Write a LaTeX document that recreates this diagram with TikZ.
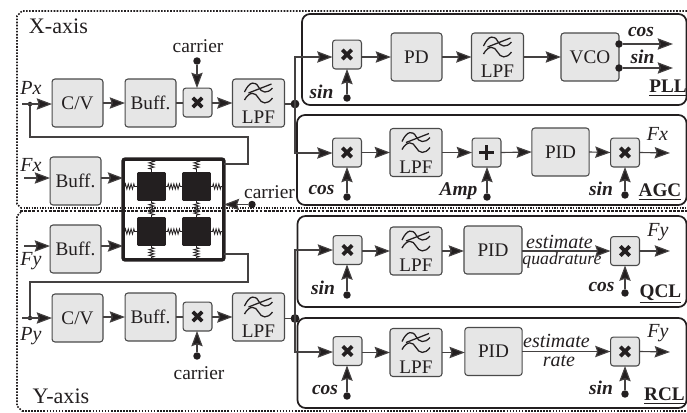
\documentclass[tikz,border=0pt]{standalone}
\usepackage{fontspec}
\setmainfont{Liberation Serif}
\usetikzlibrary{arrows.meta,calc,decorations.pathmorphing}
\definecolor{blkfill}{HTML}{E6E6E6}
\definecolor{blkline}{HTML}{4A4A4A}
\definecolor{ink}{HTML}{231F20}
\tikzset{
  every node/.style={inner sep=0pt,outer sep=0pt,text=ink},
  blk/.style={draw=blkline,fill=blkfill,line width=0.8pt,rounded corners=2.2pt,minimum width=#1,minimum height=36pt,font=\fontsize{14.4}{15}\selectfont},
  blk/.default=38.2pt,
  mult/.style={draw=blkline,fill=blkfill,line width=0.8pt,rounded corners=2.2pt,minimum width=21.7pt,minimum height=21.7pt,
    path picture={\draw[ink,line width=2.7pt]
      ($(path picture bounding box.center)+(-3.5pt,-3.5pt)$) -- ($(path picture bounding box.center)+(3.5pt,3.5pt)$)
      ($(path picture bounding box.center)+(-3.5pt,3.5pt)$) -- ($(path picture bounding box.center)+(3.5pt,-3.5pt)$);}},
  plusb/.style={draw=blkline,fill=blkfill,line width=0.8pt,rounded corners=2.2pt,minimum width=21.7pt,minimum height=21.7pt,
    path picture={\draw[ink,line width=1.9pt]
      ($(path picture bounding box.center)+(-5.5pt,0pt)$) -- ($(path picture bounding box.center)+(5.5pt,0pt)$)
      ($(path picture bounding box.center)+(0pt,5.5pt)$) -- ($(path picture bounding box.center)+(0pt,-5.5pt)$);}},
  wire/.style={draw=ink!85,line width=0.85pt},
  arr/.style={wire,-{Stealth[length=11.5pt,width=8.5pt,inset=1.5pt,fill=ink]}},
  dotb/.style={circle,fill=ink,minimum size=5.6pt},
  dotj/.style={circle,fill=ink,minimum size=6.6pt},
  doti/.style={circle,fill=ink,minimum size=3.4pt},
  panel/.style={draw=ink,line width=1.3pt,rounded corners=6pt},
  framel/.style={draw=ink,line width=1.25pt,dash pattern=on 1.2pt off 1.1pt},
  frameh/.style={draw=ink,line width=2.2pt,dash pattern=on 2pt off 1.1pt},
  framet/.style={draw=ink,line width=0.8pt,dash pattern=on 1pt off 1pt},
  lab/.style={font=\fontsize{14.6}{15}\selectfont},
  axl/.style={font=\fontsize{16.6}{17}\selectfont},
  sig/.style={font=\fontsize{15}{15}\selectfont\itshape},
  sigb/.style={font=\fontsize{14.6}{15}\selectfont\itshape\bfseries},
  loopn/.style={font=\fontsize{14.4}{15}\selectfont\bfseries},
  mass/.style={fill=ink,rounded corners=1pt,minimum width=21.7pt,minimum height=21.7pt},
  spring/.style={draw=ink,line width=0.6pt,decorate,decoration={zigzag,segment length=2.1pt,amplitude=2pt,pre length=1.2pt,post length=1.2pt}},
  lpfwave/.style={draw=ink,line width=0.95pt},
}
% LPF block: name, centre x, centre y
\newcommand{\lpfblock}[3]{%
  \node[blk=39pt] (#1) at (#2,#3) {};
  \node[font=\fontsize{14.4}{15}\selectfont] (#1t) at (#2,#3+14.5) {LPF};
  \draw[lpfwave] (#2-14,#3-11) .. controls (#2-9,#3-22) and (#2-3,#3-22) .. (#2,#3-16) .. controls (#2+3,#3-10) and (#2+9,#3-9) .. (#2+14,#3-15);
  \draw[lpfwave] (#2-14,#3-3) .. controls (#2-9,#3-12) and (#2-3,#3-11) .. (#2,#3-5) .. controls (#2+3,#3+1) and (#2+9,#3+2) .. (#2+14,#3-5);
  \draw[lpfwave] (#2-10,#3-10) -- (#2+13,#3-19);
}
\begin{document}
\begin{tikzpicture}[x=0.75pt,y=-0.75pt]
\useasboundingbox (0,0) rectangle (687,412);
\clip (0,0) rectangle (687,412);
% frames
\draw[framel] (687,11) -- (22,11) -- (17,16) -- (17,204) -- (21,208);
\draw[framet] (21,208) -- (687,208);
\draw[frameh] (20,211) -- (687,211);
\draw[framel] (21,212) -- (17,216) -- (17,406) -- (22,411);
\draw[framel] (22,411) -- (687,411);
% panels
\draw[panel] (302,14) rectangle (686.5,105);
\draw[panel] (297,115) rectangle (686.5,205);
\draw[panel] (297.5,216) rectangle (686.5,307);
\draw[panel] (297.5,318) rectangle (686.5,408);
% axis labels
\node[axl] (xaxis) at (58.5,26) {X-axis};
\node[axl] (yaxis) at (61,396) {Y-axis};
% ---------- X channel
\node[blk] (cvx) at (77.5,103) {C/V};
\node[blk] (bufx) at (150.5,103) {Buff.};
\node[mult] (mx) at (197.5,102.5) {};
\lpfblock{lpfx}{258.5}{103}
\node[dotj] (jx) at (295,104) {};
\node[dotb] (cx) at (197,61) {};
\node[lab] (cxl) at (198,46) {carrier};
\coordinate (pxin) at (22,104);
\node[doti] (pxd) at (30,104) {};
\node[sig] (pxl) at (31,88) {Px};
\draw[arr] (pxin) -- (cvx.west |- pxin);
\draw[arr] (cvx.east) -- (bufx.west);
\draw[wire] (bufx.east) -- (mx.west |- bufx.east);
\draw[arr] (mx.east |- lpfx.west) -- (lpfx.west);
\draw[wire] (lpfx.east |- jx) -- (jx);
\draw[arr] (cx) -- (mx.north -| cx);
% ---------- resonator
\draw[frameh] (123,211) -- (224,211);
\node[draw=ink,line width=2.7pt,rounded corners=1.5pt,minimum width=75.5pt,minimum height=75.5pt] (bx) at (173.5,209.5) {};
\node[mass] (m1) at (151.5,186.5) {};
\node[mass] (m2) at (196.5,186.5) {};
\node[mass] (m3) at (151.5,231.5) {};
\node[mass] (m4) at (196.5,231.5) {};
\draw[spring] (bx.west |- m1.west) -- (m1.west);
\draw[spring] (m1.east) -- (m2.west);
\draw[spring] (m2.east) -- (bx.east |- m2.east);
\draw[spring] (bx.west |- m3.west) -- (m3.west);
\draw[spring] (m3.east) -- (m4.west);
\draw[spring] (m4.east) -- (bx.east |- m4.east);
\draw[spring] (bx.north -| m1.north) -- (m1.north);
\draw[spring] (bx.north -| m2.north) -- (m2.north);
\draw[spring] (m1.south) -- (m3.north);
\draw[spring] (m2.south) -- (m4.north);
\draw[spring] (m3.south) -- (bx.south -| m3.south);
\draw[spring] (m4.south) -- (bx.south -| m4.south);
\node[blk] (bfx) at (75.5,181) {Buff.};
\node[sig] (fxl) at (31,165) {Fx};
\coordinate (fxin) at (24,178);
\draw[arr] (fxin) -- (bfx.west |- fxin);
\draw[arr] (bfx.east |- fxin) -- (bx.west |- fxin);
\node[blk] (bfy) at (75.5,249) {Buff.};
\node[sig] (fyl) at (31,261) {Fy};
\coordinate (fyin) at (24,246);
\draw[arr] (fyin) -- (bfy.west |- fyin);
\draw[arr] (bfy.east |- fyin) -- (bx.west |- fyin);
\node[lab] (cml) at (269.5,192) {carrier};
\node[dotb] (cmd) at (252,204.5) {};
\draw[arr] (cmd) -- (bx.east |- cmd);
% feedback
\coordinate (fa) at (248,164);
\coordinate (fb) at (248,137);
\coordinate (fc) at (30,137);
\draw[wire] (bx.east |- fa) -- (fa) -- (fb) -- (fc) -- (pxd);
% ---------- Y channel
\node[blk] (cvy) at (77.5,318) {C/V};
\node[blk] (bufy) at (150.5,317) {Buff.};
\node[mult] (my) at (197.5,316.5) {};
\lpfblock{lpfy}{258.5}{317}
\node[dotj] (jy) at (295,318.5) {};
\node[dotb] (cy) at (197,356) {};
\node[lab] (cyl) at (199,373) {carrier};
\coordinate (pyin) at (22,318);
\node[doti] (pyd) at (30,318) {};
\node[sig] (pyl) at (31,336) {Py};
\draw[arr] (pyin) -- (cvy.west |- pyin);
\draw[arr] (cvy.east |- bufy.west) -- (bufy.west);
\draw[wire] (bufy.east) -- (my.west |- bufy.east);
\draw[arr] (my.east |- lpfy.west) -- (lpfy.west);
\draw[wire] (lpfy.east |- jy) -- (jy);
\draw[arr] (cy) -- (my.south -| cy);
\coordinate (ga) at (248,254);
\coordinate (gb) at (248,282);
\coordinate (gc) at (30,282);
\draw[wire] (bx.east |- ga) -- (ga) -- (gb) -- (gc) -- (pyd);
% ---------- PLL
\node[mult] (p1) at (347,54.5) {};
\node[blk] (pd) at (416.5,57) {PD};
\lpfblock{lp}{497.5}{57}
\node[blk=43.5pt] (vco) at (590,57) {VCO};
\coordinate (pin) at (295,57);
\draw[arr] (jx.center) -- (pin) -- (p1.west |- pin);
\draw[arr] (p1.east |- pd.west) -- (pd.west);
\draw[arr] (pd.east) -- (lp.west);
\draw[arr] (lp.east) -- (vco.west);
\node[dotb] (pd1) at (347,98) {};
\draw[arr] (pd1) -- (p1.south);
\node[sigb] (pl1) at (321.5,92) {sin};
\node[dotb] (vc) at (619,44) {};
\node[dotb] (vs) at (619,68) {};
\coordinate (oc) at (673,44);
\coordinate (os) at (673,68);
\draw[arr] (vc) -- (oc);
\draw[arr] (vs) -- (os);
\node[sigb] (cl) at (641,32) {cos};
\node[sigb] (sl) at (642.5,57) {sin};
\node[loopn] (pll) at (668,88) {\underline{PLL}};
% ---------- AGC
\node[mult] (a1) at (347,152.5) {};
\lpfblock{la}{416}{152.5}
\node[plusb] (ap) at (486.5,152.5) {};
\node[blk=43pt] (apid) at (560.5,152) {PID};
\node[mult] (a2) at (625,152.5) {};
\coordinate (ain) at (295,153);
\coordinate (aout) at (670,153);
\draw[arr] (jx.center) -- (ain) -- (a1.west |- ain);
\draw[arr] (a1.east) -- (la.west);
\draw[arr] (la.east) -- (ap.west);
\draw[arr] (ap.east) -- (apid.west);
\draw[arr] (apid.east) -- (a2.west);
\draw[arr] (a2.east) -- (aout);
\node[dotb] (ad1) at (347,197) {};
\node[dotb] (ad2) at (487,197) {};
\node[dotb] (ad3) at (625,195) {};
\draw[arr] (ad1) -- (a1.south);
\draw[arr] (ad2) -- (ap.south -| ad2);
\draw[arr] (ad3) -- (a2.south);
\node[sigb] (al1) at (321.5,190) {cos};
\node[sigb] (al2) at (458.5,191) {Amp};
\node[sigb] (al3) at (601,189) {sin};
\node[sig] (afx) at (657.5,134) {Fx};
\node[loopn] (agc) at (660,192) {\underline{AGC}};
% ---------- QCL
\node[mult] (q1) at (347.5,250) {};
\lpfblock{lq}{416}{251}
\node[blk=43.5pt] (qpid) at (493,250) {PID};
\node[mult] (q2) at (625,251) {};
\coordinate (qin) at (295,250);
\coordinate (qout) at (670,251);
\draw[arr] (jy.center) -- (qin) -- (q1.west |- qin);
\draw[arr] (q1.east |- lq.west) -- (lq.west);
\draw[arr] (lq.east) -- (qpid.west |- lq.east);
\draw[arr] (qpid.east |- q2.west) -- (q2.west);
\draw[arr] (q2.east) -- (qout);
\node[dotb] (qd1) at (347,295) {};
\node[dotb] (qd2) at (625,293) {};
\draw[arr] (qd1) -- (q1.south -| qd1);
\draw[arr] (qd2) -- (q2.south);
\node[sigb] (ql1) at (323,288) {sin};
\node[sigb] (ql2) at (601.5,287) {cos};
\node[sig] (qfy) at (658,232) {Fy};
\node[sig] (qe) at (559.5,242) {estimate};
\node[sig,font=\fontsize{13.3}{14}\selectfont\itshape] (qq) at (562,260) {quadrature};
\node[loopn] (qcl) at (660.5,294) {\underline{QCL}};
% ---------- RCL
\node[mult] (r1) at (347.5,351) {};
\lpfblock{lr}{416}{352.5}
\node[blk=43pt] (rpid) at (493.5,351.5) {PID};
\node[mult] (r2) at (625,351.5) {};
\coordinate (rin) at (295,352);
\coordinate (rout) at (670,352);
\draw[arr] (jy.center) -- (rin) -- (r1.west |- rin);
\draw[arr] (r1.east |- lr.west) -- (lr.west);
\draw[arr] (lr.east) -- (rpid.west |- lr.east);
\draw[arr] (rpid.east) -- (r2.west);
\draw[arr] (r2.east) -- (rout);
\node[dotb] (rd1) at (347,396) {};
\node[dotb] (rd2) at (625,394) {};
\draw[arr] (rd1) -- (r1.south -| rd1);
\draw[arr] (rd2) -- (r2.south);
\node[sigb] (rl1) at (325,390) {cos};
\node[sigb] (rl2) at (601,388) {sin};
\node[sig] (rfy) at (658,333) {Fy};
\node[sig] (re) at (556.5,341) {estimate};
\node[sig] (rr) at (559,361) {rate};
\node[loopn] (rcl) at (664.5,396) {\underline{RCL}};
\end{tikzpicture}
\end{document}
